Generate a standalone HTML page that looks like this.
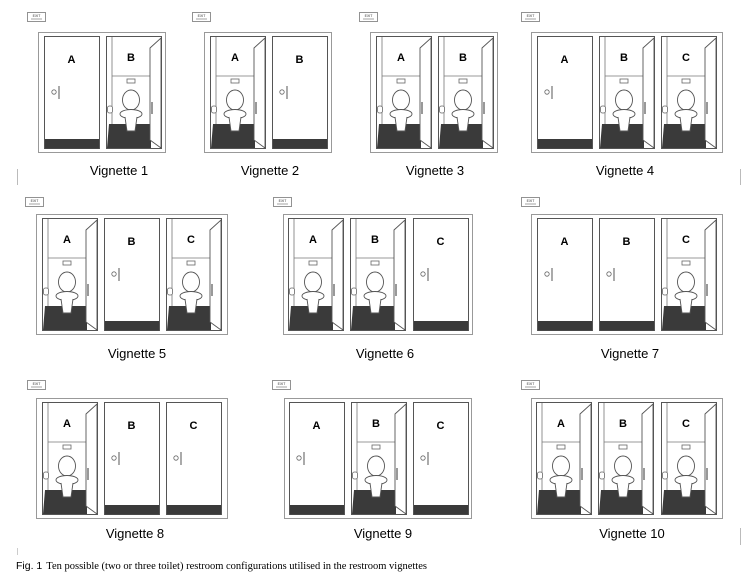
<!DOCTYPE html>
<html><head><meta charset="utf-8"><style>
html,body{margin:0;padding:0;background:#fff;}
svg{display:block;}
</style></head><body>
<svg width="754" height="578" viewBox="0 0 754 578" xmlns="http://www.w3.org/2000/svg">
<defs>
<g id="closed">
<rect x="0.5" y="0.5" width="55" height="112" fill="#fff" stroke="#555" stroke-width="1"/>
<rect x="1" y="103" width="54" height="9.5" fill="#3a3a3a"/>
<circle cx="10" cy="56" r="2.2" fill="none" stroke="#666" stroke-width="0.8"/>
<line x1="15" y1="50" x2="15" y2="63" stroke="#444" stroke-width="0.9"/>
</g>
<g id="open">
<rect x="0.5" y="0.5" width="55" height="112" fill="#fff" stroke="#555" stroke-width="1"/>
<line x1="6" y1="1" x2="6" y2="100" stroke="#777" stroke-width="0.8"/>
<line x1="6" y1="40" x2="44" y2="40" stroke="#777" stroke-width="0.8"/>
<polygon points="1,112 3,88 45,88 45,112" fill="#3a3a3a"/>
<polygon points="44,12 55,2 55,112 44,104" fill="#fff" stroke="#555" stroke-width="0.9"/>
<line x1="46" y1="66" x2="46" y2="78" stroke="#555" stroke-width="1.2"/>
<rect x="21" y="43" width="8" height="4" fill="#fff" stroke="#666" stroke-width="0.8"/>
<ellipse cx="25" cy="64" rx="8.5" ry="10" fill="#fff" stroke="#555" stroke-width="0.9"/>
<ellipse cx="25" cy="78" rx="11" ry="4.5" fill="#fff" stroke="#555" stroke-width="0.9"/>
<path d="M19,81 L21,95 L29,95 L31,81" fill="#fff" stroke="#555" stroke-width="0.9"/>
<rect x="1.5" y="70" width="5" height="7" rx="2" fill="#fff" stroke="#666" stroke-width="0.8"/>
</g>
<g id="exit">
<rect x="0.5" y="0.5" width="18" height="9" fill="#fff" stroke="#777" stroke-width="0.8"/>
<text x="9.5" y="5" font-family="Liberation Sans, sans-serif" font-size="3.5" text-anchor="middle" fill="#333">EXIT</text>
<line x1="4" y1="7" x2="15" y2="7" stroke="#666" stroke-width="0.6"/>
</g>
</defs>
<g font-family="Liberation Sans, DejaVu Sans, sans-serif" fill="#000">

<!-- Row 1 -->
<use href="#exit" x="27" y="12"/>
<rect x="38.5" y="32.5" width="127" height="120" fill="#fff" stroke="#999"/>
<use href="#closed" x="44" y="36"/><use href="#open" x="106" y="36"/>
<text x="71.5" y="63" font-size="11" font-weight="bold" text-anchor="middle">A</text>
<text x="131" y="61" font-size="11" font-weight="bold" text-anchor="middle">B</text>
<text x="119" y="175" font-size="13" text-anchor="middle">Vignette 1</text>

<use href="#exit" x="192" y="12"/>
<rect x="204.5" y="32.5" width="127" height="120" fill="#fff" stroke="#999"/>
<use href="#open" x="210" y="36"/><use href="#closed" x="272" y="36"/>
<text x="235" y="61" font-size="11" font-weight="bold" text-anchor="middle">A</text>
<text x="299.5" y="63" font-size="11" font-weight="bold" text-anchor="middle">B</text>
<text x="270" y="175" font-size="13" text-anchor="middle">Vignette 2</text>

<use href="#exit" x="359" y="12"/>
<rect x="370.5" y="32.5" width="127" height="120" fill="#fff" stroke="#999"/>
<use href="#open" x="376" y="36"/><use href="#open" x="438" y="36"/>
<text x="401" y="61" font-size="11" font-weight="bold" text-anchor="middle">A</text>
<text x="463" y="61" font-size="11" font-weight="bold" text-anchor="middle">B</text>
<text x="435" y="175" font-size="13" text-anchor="middle">Vignette 3</text>

<use href="#exit" x="521" y="12"/>
<rect x="531.5" y="32.5" width="191" height="120" fill="#fff" stroke="#999"/>
<use href="#closed" x="537" y="36"/><use href="#open" x="599" y="36"/><use href="#open" x="661" y="36"/>
<text x="564.5" y="63" font-size="11" font-weight="bold" text-anchor="middle">A</text>
<text x="624" y="61" font-size="11" font-weight="bold" text-anchor="middle">B</text>
<text x="686" y="61" font-size="11" font-weight="bold" text-anchor="middle">C</text>
<text x="625" y="175" font-size="13" text-anchor="middle">Vignette 4</text>

<line x1="17.5" y1="169" x2="17.5" y2="185" stroke="#bbb"/>
<line x1="740.5" y1="169" x2="740.5" y2="185" stroke="#bbb"/>

<!-- Row 2 -->
<use href="#exit" x="25" y="197"/>
<rect x="36.5" y="214.5" width="191" height="120" fill="#fff" stroke="#999"/>
<use href="#open" x="42" y="218"/><use href="#closed" x="104" y="218"/><use href="#open" x="166" y="218"/>
<text x="67" y="243" font-size="11" font-weight="bold" text-anchor="middle">A</text>
<text x="131.5" y="245" font-size="11" font-weight="bold" text-anchor="middle">B</text>
<text x="191" y="243" font-size="11" font-weight="bold" text-anchor="middle">C</text>
<text x="137" y="358" font-size="13" text-anchor="middle">Vignette 5</text>

<use href="#exit" x="273" y="197"/>
<rect x="283.5" y="214.5" width="189" height="120" fill="#fff" stroke="#999"/>
<use href="#open" x="288" y="218"/><use href="#open" x="350" y="218"/><use href="#closed" x="413" y="218"/>
<text x="313" y="243" font-size="11" font-weight="bold" text-anchor="middle">A</text>
<text x="375" y="243" font-size="11" font-weight="bold" text-anchor="middle">B</text>
<text x="440.5" y="245" font-size="11" font-weight="bold" text-anchor="middle">C</text>
<text x="385" y="358" font-size="13" text-anchor="middle">Vignette 6</text>

<use href="#exit" x="521" y="197"/>
<rect x="531.5" y="214.5" width="191" height="120" fill="#fff" stroke="#999"/>
<use href="#closed" x="537" y="218"/><use href="#closed" x="599" y="218"/><use href="#open" x="661" y="218"/>
<text x="564.5" y="245" font-size="11" font-weight="bold" text-anchor="middle">A</text>
<text x="626.5" y="245" font-size="11" font-weight="bold" text-anchor="middle">B</text>
<text x="686" y="243" font-size="11" font-weight="bold" text-anchor="middle">C</text>
<text x="630" y="358" font-size="13" text-anchor="middle">Vignette 7</text>

<!-- Row 3 -->
<use href="#exit" x="27" y="380"/>
<rect x="36.5" y="398.5" width="191" height="120" fill="#fff" stroke="#999"/>
<use href="#open" x="42" y="402"/><use href="#closed" x="104" y="402"/><use href="#closed" x="166" y="402"/>
<text x="67" y="427" font-size="11" font-weight="bold" text-anchor="middle">A</text>
<text x="131.5" y="429" font-size="11" font-weight="bold" text-anchor="middle">B</text>
<text x="193.5" y="429" font-size="11" font-weight="bold" text-anchor="middle">C</text>
<text x="135" y="538" font-size="13" text-anchor="middle">Vignette 8</text>

<use href="#exit" x="272" y="380"/>
<rect x="284.5" y="398.5" width="187" height="120" fill="#fff" stroke="#999"/>
<use href="#closed" x="289" y="402"/><use href="#open" x="351" y="402"/><use href="#closed" x="413" y="402"/>
<text x="316.5" y="429" font-size="11" font-weight="bold" text-anchor="middle">A</text>
<text x="376" y="427" font-size="11" font-weight="bold" text-anchor="middle">B</text>
<text x="440.5" y="429" font-size="11" font-weight="bold" text-anchor="middle">C</text>
<text x="383" y="538" font-size="13" text-anchor="middle">Vignette 9</text>

<use href="#exit" x="521" y="380"/>
<rect x="531.5" y="398.5" width="191" height="120" fill="#fff" stroke="#999"/>
<use href="#open" x="536" y="402"/><use href="#open" x="598" y="402"/><use href="#open" x="661" y="402"/>
<text x="561" y="427" font-size="11" font-weight="bold" text-anchor="middle">A</text>
<text x="623" y="427" font-size="11" font-weight="bold" text-anchor="middle">B</text>
<text x="686" y="427" font-size="11" font-weight="bold" text-anchor="middle">C</text>
<text x="632" y="538" font-size="13" text-anchor="middle">Vignette 10</text>
<line x1="740.5" y1="528" x2="740.5" y2="545" stroke="#bbb"/>
<line x1="17.5" y1="548" x2="17.5" y2="555" stroke="#ccc"/>
</g>

<text x="16" y="569" font-size="10.5" fill="#000"><tspan font-family="Liberation Sans, sans-serif">Fig. 1</tspan><tspan font-family="Liberation Serif, serif" dx="4">Ten possible (two or three toilet) restroom configurations utilised in the restroom vignettes</tspan></text>
</svg>
</body></html>
